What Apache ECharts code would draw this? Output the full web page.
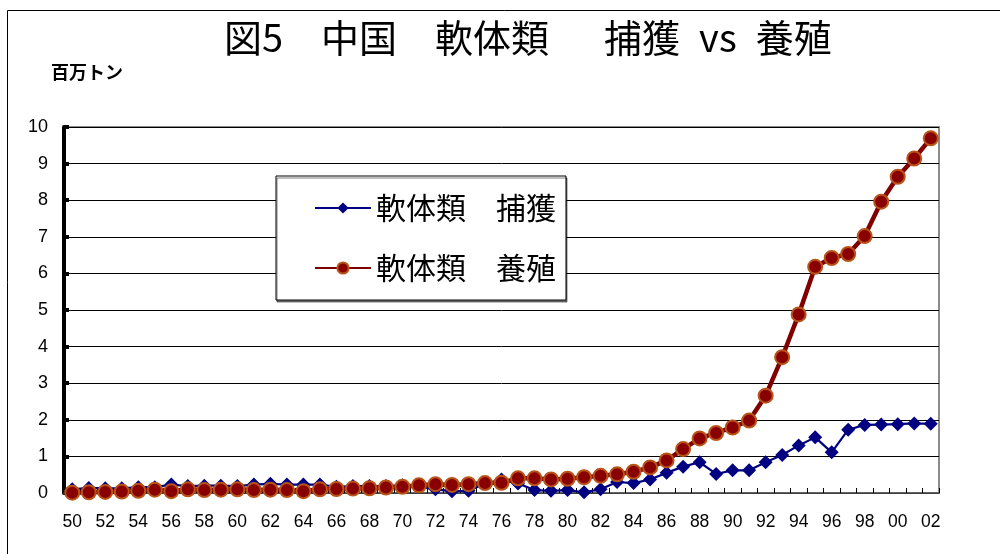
<!DOCTYPE html>
<html>
<head>
<meta charset="utf-8">
<script src="https://cdn.jsdelivr.net/npm/echarts@6/dist/echarts.min.js"></script>
<style>html,body{margin:0;padding:0;background:#fff}#c{width:1000px;height:554px}</style>
</head>
<body>
<div id="c"></div>
<script>
const years = ['50','51','52','53','54','55','56','57','58','59','60','61','62','63','64','65','66','67','68','69','70','71','72','73','74','75','76','77','78','79','80','81','82','83','84','85','86','87','88','89','90','91','92','93','94','95','96','97','98','99','00','01','02'];
const capture = [0.10,0.14,0.13,0.13,0.16,0.16,0.23,0.19,0.20,0.20,0.19,0.23,0.25,0.23,0.23,0.23,0.17,0.19,0.19,0.19,0.21,0.18,0.10,0.05,0.06,0.25,0.37,0.26,0.08,0.06,0.08,0.02,0.10,0.30,0.27,0.37,0.55,0.72,0.84,0.52,0.62,0.62,0.84,1.04,1.30,1.52,1.11,1.73,1.86,1.87,1.88,1.90,1.89];
const culture = [0.01,0.02,0.03,0.04,0.06,0.09,0.05,0.10,0.08,0.09,0.10,0.08,0.09,0.08,0.05,0.10,0.11,0.12,0.13,0.15,0.17,0.21,0.24,0.22,0.24,0.27,0.28,0.40,0.40,0.37,0.39,0.43,0.47,0.51,0.58,0.70,0.89,1.20,1.49,1.64,1.79,1.98,2.66,3.71,4.88,6.18,6.42,6.53,7.02,7.96,8.64,9.14,9.69];
const seriesNames = ['軟体類　捕獲', '軟体類　養殖'];
const titleText = '図5　中国　軟体類　  捕獲\u2002vs\u2002養殖';
const unitText = '百万トン';

const chart = echarts.init(document.getElementById('c'));
const JP = '"Noto Sans CJK JP", "Noto Sans", sans-serif';
const NUM = '"Liberation Sans", Arial, sans-serif';
chart.setOption({
  animation: false,
  backgroundColor: '#fff',
  textStyle: { fontFamily: JP },
  title: {
    text: titleText,
    left: 219, top: 14,
    textStyle: { fontSize: 38, fontWeight: 'normal', color: '#000', fontFamily: JP }
  },
  graphic: [
    { type: 'rect', left: 5, top: 8, shape: { width: 1010, height: 560 }, style: { fill: 'none', stroke: '#000', lineWidth: 1 }, silent: true, z: -1 },
    { type: 'text', left: 51, top: 63, style: { text: unitText, font: 'bold 18px ' + JP, fill: '#000' } }
  ],
  legend: {
    orient: 'vertical',
    left: 276, top: 176,
    padding: [16, 10, 16, 38],
    backgroundColor: '#fff',
    borderColor: '#000',
    borderWidth: 1,
    shadowColor: 'rgba(0,0,0,0.5)',
    shadowOffsetX: 1, shadowOffsetY: 2, shadowBlur: 0,
    itemWidth: 56, itemHeight: 14,
    itemGap: 28,
    textStyle: { fontSize: 30, color: '#000', fontFamily: JP, lineHeight: 32 },
    data: seriesNames
  },
  grid: {
    left: 64, right: 61, top: 127, bottom: 61,
    show: true, borderColor: '#8c8c8c', borderWidth: 2, backgroundColor: 'transparent'
  },
  xAxis: {
    type: 'category',
    data: years,
    boundaryGap: true,
    axisLine: { lineStyle: { color: '#555', width: 1.5 } },
    axisTick: { show: true, inside: true, length: 5, interval: 0, lineStyle: { color: '#000', width: 1 } },
    axisLabel: { interval: 1, fontSize: 17.5, color: '#000', margin: 20, fontFamily: NUM },
    splitLine: { show: false }
  },
  yAxis: {
    type: 'value',
    min: 0, max: 10, interval: 1,
    axisLine: { show: true, lineStyle: { color: '#000', width: 4 } },
    axisTick: { show: true, inside: true, length: 5, lineStyle: { color: '#000', width: 4 } },
    axisLabel: { fontSize: 18, color: '#000', margin: 16, fontFamily: NUM },
    splitLine: { lineStyle: { color: '#000', width: 1 } }
  },
  series: [
    {
      name: seriesNames[0], type: 'line', data: capture,
      symbol: 'diamond', symbolSize: 14, showAllSymbol: true,
      lineStyle: { color: '#000080', width: 2.2 },
      itemStyle: { color: '#000080' },
      z: 2
    },
    {
      name: seriesNames[1], type: 'line', data: culture,
      symbol: 'circle', symbolSize: 14, showAllSymbol: true,
      lineStyle: { color: '#800000', width: 4.5 },
      itemStyle: { color: '#880000', borderColor: '#b85418', borderWidth: 2 },
      z: 3
    }
  ]
});
</script>
</body>
</html>
